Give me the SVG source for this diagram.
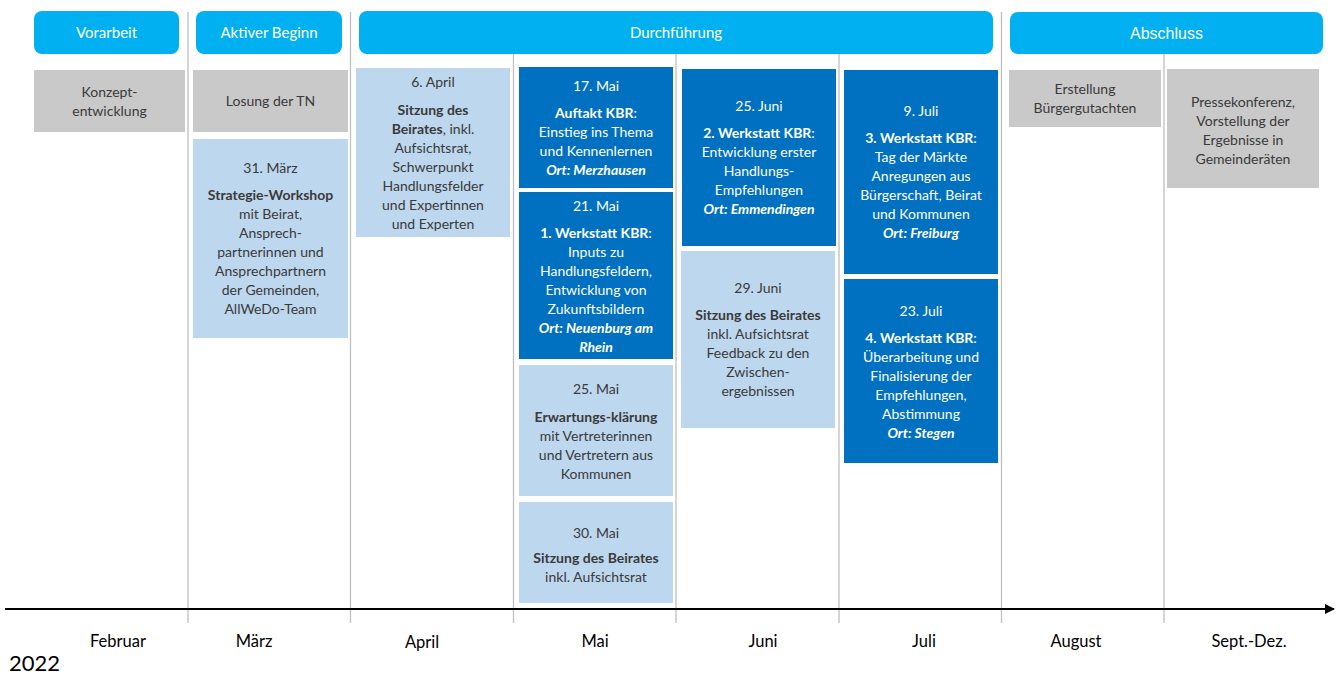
<svg xmlns="http://www.w3.org/2000/svg" width="1337" height="675" viewBox="0 0 1337 675">
<defs>
<style>
.hdr{fill:#00B0F0}
.gray{fill:#C9C9C9}
.lb{fill:#BDD7EE}
.db{fill:#0070C0}
.grid{stroke:#BFBFBF;stroke-width:1.3}
text{font-family:Lato,"Open Sans","Liberation Sans",sans-serif;font-size:14px;text-anchor:middle}
.ht{fill:#FFFFFF;font-size:15px}
.dk{fill:#3A3A3A}
.wt{fill:#FFFFFF}
.b{font-weight:bold}
.bi{font-weight:bold;font-style:italic}
.mon{fill:#000;font-size:16.5px}
</style>
<marker id="arr" viewBox="0 0 10 10" refX="9" refY="5" markerWidth="5" markerHeight="5" orient="auto" markerUnits="strokeWidth">
<path d="M0,0 L10,5 L0,10 z" fill="#000"/>
</marker>
</defs>
<rect width="1337" height="675" fill="#FFFFFF"/>
<g id="connectors">
<line class="grid" x1="188" y1="12" x2="188" y2="623"/>
<line class="grid" x1="350.5" y1="12" x2="350.5" y2="623"/>
<line class="grid" x1="513.5" y1="12" x2="513.5" y2="623"/>
<line class="grid" x1="676" y1="12" x2="676" y2="623"/>
<line class="grid" x1="839" y1="12" x2="839" y2="623"/>
<line class="grid" x1="1001.5" y1="12" x2="1001.5" y2="623"/>
<line class="grid" x1="1164" y1="12" x2="1164" y2="623"/>
<line x1="5" y1="609" x2="1334" y2="609" stroke="#000" stroke-width="2" marker-end="url(#arr)"/>
</g>
<g id="h-vorarbeit"><rect class="hdr" x="34" y="11" width="145" height="43" rx="8"/><text class="ht" x="106.5" y="38">Vorarbeit</text></g>
<g id="h-aktiv"><rect class="hdr" x="196" y="11" width="146" height="43" rx="8"/><text class="ht" x="269" y="38">Aktiver Beginn</text></g>
<g id="h-durch"><rect class="hdr" x="359" y="11" width="634" height="43" rx="8"/><text class="ht" x="676" y="38">Durchführung</text></g>
<g id="h-abschluss"><rect class="hdr" x="1010" y="12" width="313" height="42" rx="8"/><text class="ht" x="1166.5" y="39" style="font-family:'Liberation Sans',Arial,sans-serif;font-size:16px">Abschluss</text></g>

<g id="n-konzept"><rect class="gray" x="34" y="70" width="151" height="62"/>
<text class="dk"><tspan x="109.5" y="97">Konzept-</tspan><tspan x="109.5" y="116">entwicklung</tspan></text></g>
<g id="n-losung"><rect class="gray" x="193" y="70" width="155" height="62"/>
<text class="dk" x="270.5" y="106">Losung der TN</text></g>
<g id="n-strategie"><rect class="lb" x="193" y="139" width="155" height="199"/>
<text class="dk"><tspan x="270.5" y="173">31. März</tspan><tspan x="270.5" y="200" class="b">Strategie-Workshop</tspan><tspan x="270.5" y="219">mit Beirat,</tspan><tspan x="270.5" y="238">Ansprech-</tspan><tspan x="270.5" y="257">partnerinnen und</tspan><tspan x="270.5" y="276">Ansprechpartnern</tspan><tspan x="270.5" y="295">der Gemeinden,</tspan><tspan x="270.5" y="314">AllWeDo-Team</tspan></text></g>
<g id="n-april"><rect class="lb" x="356" y="68" width="154" height="169"/>
<text class="dk"><tspan x="433" y="87">6. April</tspan><tspan x="433" y="115" class="b">Sitzung des</tspan><tspan x="433" y="134"><tspan class="b">Beirates</tspan>, inkl.</tspan><tspan x="433" y="153">Aufsichtsrat,</tspan><tspan x="433" y="172">Schwerpunkt</tspan><tspan x="433" y="191">Handlungsfelder</tspan><tspan x="433" y="210">und Expertinnen</tspan><tspan x="433" y="229">und Experten</tspan></text></g>
<g id="n-mai17"><rect class="db" x="519" y="67" width="154" height="121"/>
<text class="wt"><tspan x="596" y="91">17. Mai</tspan><tspan x="596" y="118"><tspan class="b">Auftakt KBR</tspan>:</tspan><tspan x="596" y="137">Einstieg ins Thema</tspan><tspan x="596" y="156">und Kennenlernen</tspan><tspan x="596" y="175" class="bi">Ort: Merzhausen</tspan></text></g>
<g id="n-mai21"><rect class="db" x="519" y="192" width="154" height="167"/>
<text class="wt"><tspan x="596" y="211">21. Mai</tspan><tspan x="596" y="238"><tspan class="b">1. Werkstatt KBR</tspan>:</tspan><tspan x="596" y="257">Inputs zu</tspan><tspan x="596" y="276">Handlungsfeldern,</tspan><tspan x="596" y="295">Entwicklung von</tspan><tspan x="596" y="314">Zukunftsbildern</tspan><tspan x="596" y="333" class="bi">Ort: Neuenburg am</tspan><tspan x="596" y="352" class="bi">Rhein</tspan></text></g>
<g id="n-mai25"><rect class="lb" x="519" y="365" width="154" height="131"/>
<text class="dk"><tspan x="596" y="394">25. Mai</tspan><tspan x="596" y="422" class="b">Erwartungs-klärung</tspan><tspan x="596" y="441">mit Vertreterinnen</tspan><tspan x="596" y="460">und Vertretern aus</tspan><tspan x="596" y="479">Kommunen</tspan></text></g>
<g id="n-mai30"><rect class="lb" x="519" y="502" width="154" height="101"/>
<text class="dk"><tspan x="596" y="538">30. Mai</tspan><tspan x="596" y="563" class="b">Sitzung des Beirates</tspan><tspan x="596" y="582">inkl. Aufsichtsrat</tspan></text></g>
<g id="n-juni25"><rect class="db" x="682" y="69" width="154" height="177"/>
<text class="wt"><tspan x="759" y="111">25. Juni</tspan><tspan x="759" y="138"><tspan class="b">2. Werkstatt KBR</tspan>:</tspan><tspan x="759" y="157">Entwicklung erster</tspan><tspan x="759" y="176">Handlungs-</tspan><tspan x="759" y="195">Empfehlungen</tspan><tspan x="759" y="214" class="bi">Ort: Emmendingen</tspan></text></g>
<g id="n-juni29"><rect class="lb" x="681" y="251" width="154" height="177"/>
<text class="dk"><tspan x="758" y="293">29. Juni</tspan><tspan x="758" y="320" class="b">Sitzung des Beirates</tspan><tspan x="758" y="339">inkl. Aufsichtsrat</tspan><tspan x="758" y="358">Feedback zu den</tspan><tspan x="758" y="377">Zwischen-</tspan><tspan x="758" y="396">ergebnissen</tspan></text></g>
<g id="n-juli9"><rect class="db" x="844" y="70" width="154" height="204"/>
<text class="wt"><tspan x="921" y="116">9. Juli</tspan><tspan x="921" y="143"><tspan class="b">3. Werkstatt KBR</tspan>:</tspan><tspan x="921" y="162">Tag der Märkte</tspan><tspan x="921" y="181">Anregungen aus</tspan><tspan x="921" y="200">Bürgerschaft, Beirat</tspan><tspan x="921" y="219">und Kommunen</tspan><tspan x="921" y="238" class="bi">Ort: Freiburg</tspan></text></g>
<g id="n-juli23"><rect class="db" x="844" y="279" width="154" height="184"/>
<text class="wt"><tspan x="921" y="316">23. Juli</tspan><tspan x="921" y="343"><tspan class="b">4. Werkstatt KBR</tspan>:</tspan><tspan x="921" y="362">Überarbeitung und</tspan><tspan x="921" y="381">Finalisierung der</tspan><tspan x="921" y="400">Empfehlungen,</tspan><tspan x="921" y="419">Abstimmung</tspan><tspan x="921" y="438" class="bi">Ort: Stegen</tspan></text></g>
<g id="n-erstellung"><rect class="gray" x="1009" y="70" width="152" height="57"/>
<text class="dk"><tspan x="1085" y="94">Erstellung</tspan><tspan x="1085" y="113">Bürgergutachten</tspan></text></g>
<g id="n-presse"><rect class="gray" x="1167" y="69" width="152" height="119"/>
<text class="dk"><tspan x="1243" y="107">Pressekonferenz,</tspan><tspan x="1243" y="126">Vorstellung der</tspan><tspan x="1243" y="145">Ergebnisse in</tspan><tspan x="1243" y="164">Gemeinderäten</tspan></text></g>

<g id="months">
<text class="mon" x="118" y="647">Februar</text>
<text class="mon" x="254" y="647">März</text>
<text class="mon" x="422" y="648">April</text>
<text class="mon" x="595" y="647">Mai</text>
<text class="mon" x="763" y="647">Juni</text>
<text class="mon" x="924" y="647">Juli</text>
<text class="mon" x="1076" y="647">August</text>
<text class="mon" x="1249" y="647">Sept.-Dez.</text>
<text x="9" y="671" style="font-size:22px;text-anchor:start;fill:#000">2022</text>
</g>
</svg>
